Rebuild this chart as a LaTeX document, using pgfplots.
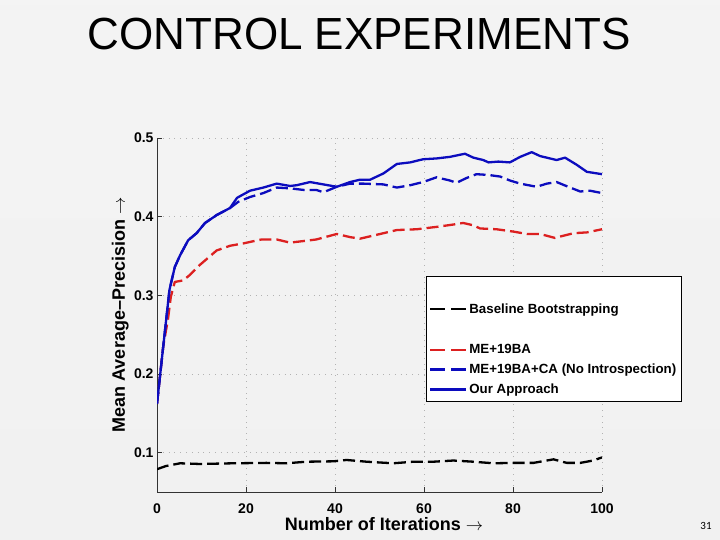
\documentclass[border=0pt]{standalone}
\usepackage{pgfplots}
\pgfplotsset{compat=1.18}
\usepackage{fontspec}
\setmainfont{Liberation Sans}
\newfontfamily\carlito{Carlito}

\definecolor{mblue}{RGB}{12,12,190}
\definecolor{mred}{RGB}{220,32,32}

\begin{document}
\begin{tikzpicture}[x=1pt,y=1pt]
% slide background
\shade[top color=gray!9, middle color=white, bottom color=gray!11] (0,0) rectangle (720,540);
\node[font=\fontsize{45}{50}\selectfont, anchor=base, xscale=0.978, transform shape] at (359,490) {CONTROL EXPERIMENTS};
\node[font=\carlito\fontsize{11}{12}\selectfont, anchor=base] at (706,10) {31};

\begin{axis}[
    at={(157pt,48pt)}, anchor=south west,
    scale only axis,
    width=445pt, height=354pt,
    xmin=0, xmax=100, ymin=0.05, ymax=0.5,
    axis x line*=bottom, axis y line*=left,
    axis line style={line width=0.7pt, black!80},
    xtick={0,20,...,100},
    ytick={0.1,0.2,0.3,0.4,0.5},
    yticklabels={0.1,0.2,0.3,0.4,0.5},
    tick align=inside,
    major tick length=5pt,
    tick style={black!80, line width=0.6pt},
    grid=major,
    major grid style={gray!60, line width=0.6pt, dash pattern=on 0.8pt off 5pt},
    ticklabel style={font=\bfseries\fontsize{14}{14}\selectfont},
    /pgf/number format/assume math mode=true,
    xticklabel style={yshift=-8pt},
    xlabel={Number of Iterations $\rightarrow$},
    ylabel={Mean Average--Precision $\rightarrow$},
    label style={font=\bfseries\fontsize{18}{18}\selectfont},
    xlabel style={at={(axis description cs:0.51,-0.110)}, anchor=base},
    ylabel style={at={(axis description cs:-0.072,0.5)}, anchor=base},
    legend style={at={(axis description cs:0.604,0.610)}, anchor=north west,
        draw=black, line width=0.6pt, fill=white,
        font=\bfseries\fontsize{13.3}{15}\selectfont,
        row sep=4.8pt, inner xsep=3pt, inner ysep=4.5pt},
    legend cell align=left,
    legend image code/.code={\draw[#1] (0pt,0pt) -- (36pt,0pt);},
    every axis plot/.append style={line width=2.3pt, line join=round},
]
\addlegendimage{empty legend}\addlegendentry{\strut}

\addplot[black, dash pattern=on 12pt off 5pt,
    legend image post style={dash pattern=on 15pt off 6pt}] coordinates {
(0,0.079) (2,0.083) (5.2,0.0865) (9.7,0.0856) (17.1,0.0865) (24.6,0.087)
(29.1,0.0865) (33.6,0.0885) (39.6,0.089) (42.6,0.0907) (47.1,0.0885)
(53.1,0.0865) (57.6,0.0885) (62.1,0.0885) (66.6,0.090) (71.1,0.0885)
(75.6,0.0865) (80.1,0.087) (84.6,0.087) (89.1,0.0915) (92.1,0.087)
(95.1,0.087) (98,0.090) (100,0.094)
};
\addlegendentry{Baseline Bootstrapping}

\addlegendimage{empty legend}\addlegendentry{\strut}

\addplot[mred, dash pattern=on 12pt off 5pt,
    legend image post style={dash pattern=on 15pt off 6pt}] coordinates {
(0,0.162) (1.4,0.235) (2.5,0.271) (3.1,0.298) (4.0,0.317) (5.9,0.319)
(7.4,0.326) (9.7,0.339) (13.4,0.357) (16.4,0.363) (19.4,0.366) (21,0.368)
(23.5,0.371) (26.9,0.371) (29.9,0.367) (32.9,0.369) (35.8,0.371)
(40.4,0.378) (43.4,0.374) (45.6,0.372) (49.4,0.377) (53.9,0.383)
(58.4,0.384) (62.8,0.387) (66.6,0.390) (68.8,0.392) (71.1,0.389)
(72.6,0.385) (76.3,0.384) (80.1,0.381) (83.1,0.378) (86.1,0.378)
(89.4,0.373) (93.6,0.379) (96.6,0.380) (100,0.384)
};
\addlegendentry{ME+19BA}

\addplot[mblue, dash pattern=on 12pt off 5pt,
    legend image post style={dash pattern=on 15pt off 6pt}] coordinates {
(0,0.162) (1.4,0.235) (2.8,0.307) (4.0,0.336) (5.2,0.351) (7.0,0.370)
(8.9,0.379) (10.8,0.392) (13.4,0.402) (16.4,0.411) (18.3,0.419)
(20.9,0.425) (23.9,0.430) (26.9,0.437) (29.9,0.436) (32.9,0.434)
(35.8,0.434) (37.4,0.431) (40.4,0.438) (43.4,0.442) (46.4,0.442)
(50.9,0.441) (53.9,0.437) (56.9,0.440) (59.8,0.444) (62.8,0.450)
(65.8,0.446) (67.3,0.443) (69.5,0.449) (71.8,0.454) (74.5,0.453)
(77.1,0.451) (79.3,0.446) (81.6,0.442) (85.3,0.438) (87.6,0.442)
(89.8,0.444) (92.4,0.438) (95.1,0.432) (97.3,0.433) (100,0.430)
};
\addlegendentry{ME+19BA+CA (No Introspection)}

\addplot[mblue] coordinates {
(0,0.162) (1.4,0.235) (2.8,0.307) (4.0,0.336) (5.2,0.351) (7.0,0.370)
(8.9,0.379) (10.8,0.392) (13.4,0.402) (16.4,0.411) (18.0,0.424)
(20.9,0.433) (23.9,0.437) (26.9,0.442) (29.9,0.439) (31.4,0.440)
(34.4,0.444) (37.4,0.441) (40.4,0.438) (43.4,0.444) (45.6,0.447)
(47.9,0.447) (50.9,0.455) (53.9,0.467) (56.9,0.469) (59.8,0.473)
(62.8,0.474) (65.8,0.476) (69.2,0.480) (71.1,0.475) (73.3,0.472)
(74.5,0.469) (76.7,0.470) (79.3,0.469) (81.6,0.476) (84.2,0.482)
(86.1,0.477) (89.8,0.472) (91.7,0.475) (94.3,0.466) (96.6,0.457)
(100,0.454)
};
\addlegendentry{Our Approach}
\end{axis}
\end{tikzpicture}
\end{document}
